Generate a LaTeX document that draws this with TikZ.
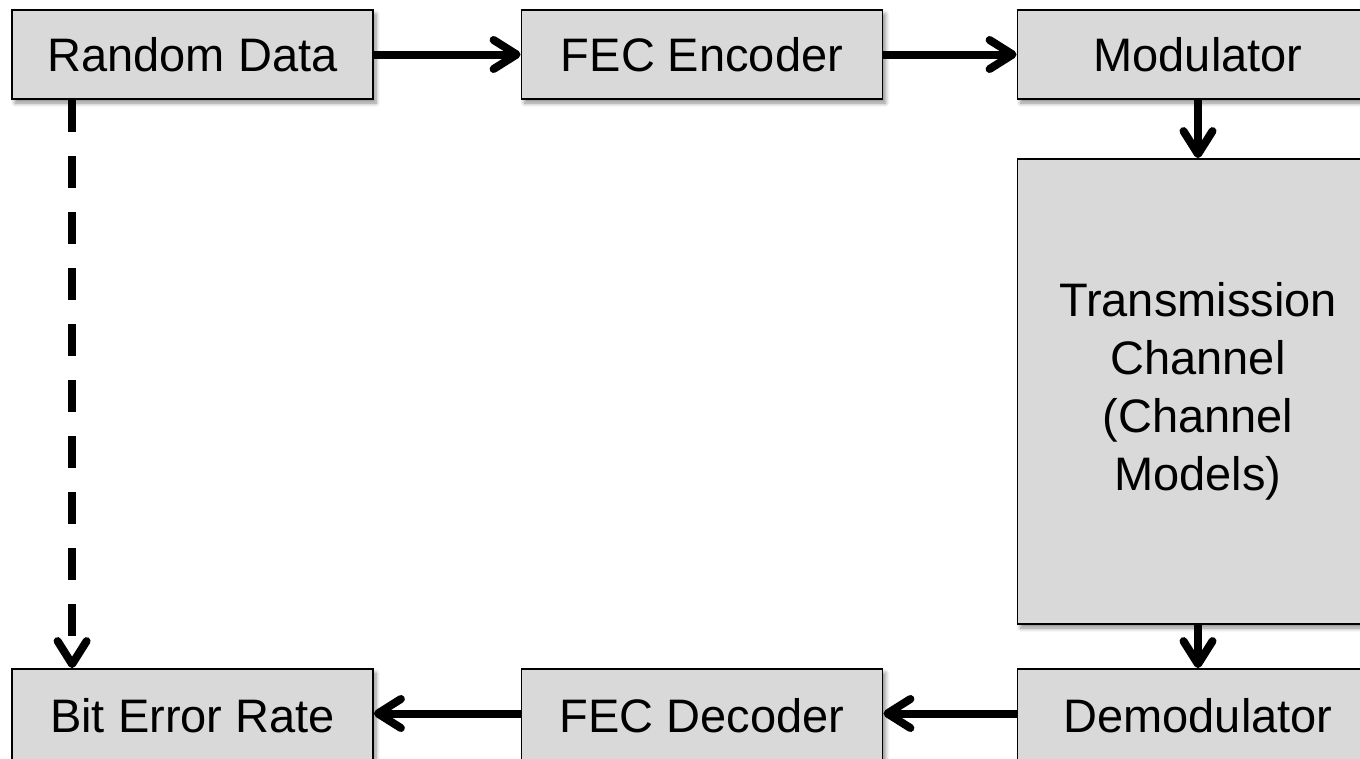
\documentclass[tikz,border=0pt]{standalone}
\usepackage{fontspec}
\setmainfont{Liberation Sans}
\usetikzlibrary{arrows.meta,shadows.blur}
\definecolor{boxgray}{HTML}{D9D9D9}
\tikzset{
  block/.style={draw=black, line width=1.8pt, fill=boxgray, rectangle,
    minimum width=361pt, minimum height=89pt, inner sep=0pt, align=center,
    font=\fontsize{47}{58}\selectfont,
    blur shadow={shadow xshift=3pt, shadow yshift=-4pt, shadow blur radius=4pt, shadow blur steps=6, shadow opacity=45}},
  lowblock/.style={block, minimum height=92pt, text depth=0pt},
  flow/.style={line width=8pt, line cap=butt, -{Straight Barb[length=23pt, width=29pt, line cap=round, line join=round]}},
  dflow/.style={flow, dash pattern=on 32pt off 24pt}
}
\begin{document}
\begin{tikzpicture}[x=1pt,y=-1pt]
\useasboundingbox (0,0) rectangle (1360,758);
\clip (0,0) rectangle (1360,758);
\node[block] (rd) at (192.5,54.5) {Random Data};
\node[block] (enc) at (702,54.5) {FEC Encoder};
\node[block] (mod) at (1198,54.5) {Modulator};
\node[block, minimum height=465pt] (ch) at (1198,391.5) {Transmission\\Channel\\(Channel\\Models)};
\node[lowblock] (dem) at (1198,715) {Demodulator};
\node[lowblock] (dec) at (702,715) {FEC Decoder};
\node[lowblock] (ber) at (192.5,715) {Bit Error Rate};
\draw[flow] (rd) -- (enc);
\draw[flow] (enc) -- (mod);
\draw[flow] (mod) -- (ch);
\draw[flow] (ch) -- (dem);
\draw[flow] ([yshift=1.5pt]dem.west) -- ([yshift=1.5pt]dec.east);
\draw[flow] ([yshift=1.5pt]dec.west) -- ([yshift=1.5pt]ber.east);
\draw[dflow] ([xshift=61pt]rd.south west) -- ([xshift=61pt]ber.north west);
\end{tikzpicture}
\end{document}
